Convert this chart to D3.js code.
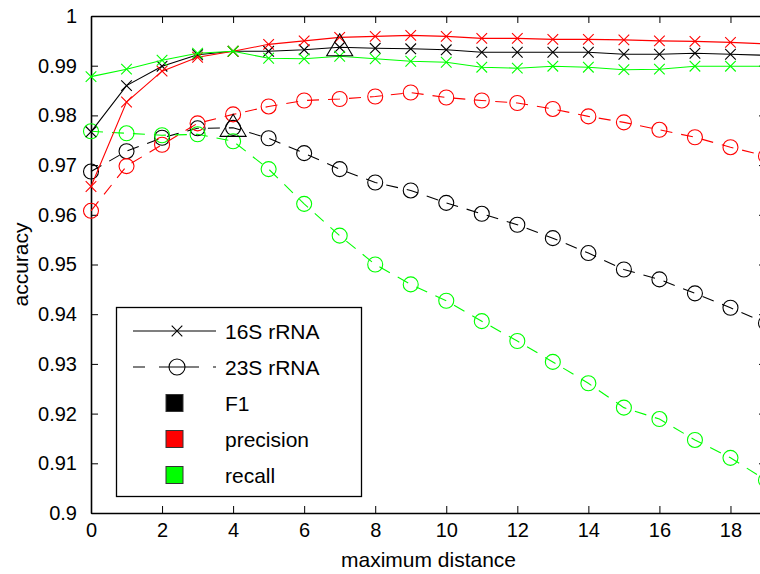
<!DOCTYPE html>
<html>
<head>
<meta charset="utf-8">
<script src="https://cdn.jsdelivr.net/npm/d3@7"></script>
<style>
  body { margin: 0; background: #fff; }
  text { font-family: "Liberation Sans", Arial, sans-serif; }
</style>
</head>
<body>
<div class="chart"></div>
<script>
// frame
let FRAME_WIDTH = 760;
let FRAME_HEIGHT = 574;
let MARGINS = {left: 91, top: 16, right: 766, bottom: 513};

// data
const distances = d3.range(0, 20);
const yTicks = [0.9, 0.91, 0.92, 0.93, 0.94, 0.95, 0.96, 0.97, 0.98, 0.99, 1];
const xTicks = [0, 2, 4, 6, 8, 10, 12, 14, 16, 18];

const f1_16S   = [0.9767, 0.9860, 0.9899, 0.9922, 0.9929, 0.9929, 0.9932, 0.9937, 0.9935, 0.9934, 0.9932, 0.9927, 0.9927, 0.9927, 0.9927, 0.9923, 0.9923, 0.9925, 0.9923, 0.9921];
const prec_16S = [0.9657, 0.9827, 0.9889, 0.9917, 0.9929, 0.9943, 0.9950, 0.9957, 0.9959, 0.9961, 0.9959, 0.9955, 0.9955, 0.9953, 0.9953, 0.9952, 0.9950, 0.9949, 0.9947, 0.9944];
const rec_16S  = [0.9878, 0.9893, 0.9911, 0.9925, 0.9929, 0.9915, 0.9914, 0.9919, 0.9914, 0.9909, 0.9907, 0.9897, 0.9895, 0.9899, 0.9897, 0.9892, 0.9893, 0.9899, 0.9899, 0.9899];

const f1_23S   = [0.9687, 0.9728, 0.9755, 0.9774, 0.9775, 0.9754, 0.9724, 0.9692, 0.9665, 0.9649, 0.9624, 0.9602, 0.9580, 0.9553, 0.9523, 0.9490, 0.9470, 0.9442, 0.9413, 0.9382];
const prec_23S = [0.9608, 0.9698, 0.9741, 0.9784, 0.9802, 0.9818, 0.9830, 0.9833, 0.9838, 0.9846, 0.9836, 0.9830, 0.9825, 0.9813, 0.9798, 0.9786, 0.9771, 0.9756, 0.9736, 0.9718];
const rec_23S  = [0.9768, 0.9764, 0.9760, 0.9762, 0.9748, 0.9692, 0.9622, 0.9558, 0.9500, 0.9460, 0.9427, 0.9386, 0.9346, 0.9304, 0.9261, 0.9212, 0.9189, 0.9147, 0.9111, 0.9066];

const measures = ["F1", "precision", "recall"];
const colors = ["#000000", "#ff0000", "#00ff00"];
const genes = ["16S rRNA", "23S rRNA"];

let svg = d3.select(".chart")
  .append("svg")
  .attr("width", FRAME_WIDTH)
  .attr("height", FRAME_HEIGHT);

const xScale = d3.scaleLinear().domain([0, 19]).range([MARGINS.left, MARGINS.right]);
const yScale = d3.scaleLinear().domain([0.9, 1]).range([MARGINS.bottom, MARGINS.top]);

// axes (ticks point inward like matlab)
const TICK = 7;
svg.append("g")
  .attr("transform", "translate(0," + MARGINS.bottom + ")")
  .call(d3.axisBottom(xScale).tickValues(xTicks).tickSizeInner(-TICK).tickSizeOuter(0).tickPadding(10).tickFormat(d3.format("d")))
  .call(g => g.select(".domain").attr("stroke-width", 1.6))
  .attr("font-size", "20px");

svg.append("g")
  .attr("transform", "translate(0," + MARGINS.top + ")")
  .call(d3.axisTop(xScale).tickValues(xTicks).tickSizeInner(-TICK).tickSizeOuter(0).tickFormat(""))
  .call(g => g.select(".domain").attr("stroke-width", 1.6));

svg.append("g")
  .attr("transform", "translate(" + MARGINS.left + ",0)")
  .call(d3.axisLeft(yScale).tickValues(yTicks).tickSizeInner(-TICK).tickSizeOuter(0).tickPadding(14).tickFormat(d => d === 1 ? "1" : d3.format(".2~f")(d)))
  .call(g => g.select(".domain").attr("stroke-width", 1.6))
  .attr("font-size", "20px");

svg.append("g")
  .attr("transform", "translate(" + MARGINS.right + ",0)")
  .call(d3.axisRight(yScale).tickValues(yTicks).tickSizeInner(-TICK).tickSizeOuter(0).tickFormat(""))
  .call(g => g.select(".domain").attr("stroke-width", 1.6));

svg.selectAll(".tick text").attr("fill", "#000");

// axis titles
svg.append("text")
  .attr("x", (MARGINS.left + MARGINS.right) / 2)
  .attr("y", 567)
  .attr("text-anchor", "middle")
  .attr("font-size", "21px")
  .text("maximum distance");

svg.append("text")
  .attr("transform", "translate(28," + ((MARGINS.top + MARGINS.bottom) / 2) + ") rotate(-90)")
  .attr("text-anchor", "middle")
  .attr("font-size", "21px")
  .text("accuracy");

// plot
let plot = svg.append("g");
let line = d3.line().x((d, i) => xScale(distances[i])).y(d => yScale(d));

function drawX(g, x, y, color) {
  let s = 5.3;
  g.append("path")
    .attr("d", "M" + (x - s) + "," + (y - s) + "L" + (x + s) + "," + (y + s) + "M" + (x - s) + "," + (y + s) + "L" + (x + s) + "," + (y - s))
    .attr("stroke", color).attr("stroke-width", 1.1).attr("fill", "none");
}

function drawSeries(values, color, dashed) {
  let g = plot.append("g");
  g.append("path")
    .datum(values)
    .attr("d", line)
    .attr("fill", "none")
    .attr("stroke", color)
    .attr("stroke-width", 1.1)
    .attr("stroke-dasharray", dashed ? "12,9" : null);
  values.forEach((v, i) => {
    if (dashed) {
      g.append("circle")
        .attr("cx", xScale(distances[i])).attr("cy", yScale(v)).attr("r", 7.5)
        .attr("fill", "none").attr("stroke", color).attr("stroke-width", 1.1);
    } else {
      drawX(g, xScale(distances[i]), yScale(v), color);
    }
  });
}

[f1_23S, prec_23S, rec_23S].forEach((s, i) => drawSeries(s, colors[i], true));
[f1_16S, prec_16S, rec_16S].forEach((s, i) => drawSeries(s, colors[i], false));

// triangles on the best F1 of each gene
[f1_16S, f1_23S].forEach(s => {
  let k = d3.maxIndex(s);
  let cx = xScale(distances[k]), cy = yScale(s[k]);
  plot.append("path")
    .attr("d", "M" + cx + "," + (cy - 13.5) + "L" + (cx + 13) + "," + (cy + 8.5) + "L" + (cx - 13) + "," + (cy + 8.5) + "Z")
    .attr("fill", "none").attr("stroke", "#000").attr("stroke-width", 1.1);
});

// legend
let legend = svg.append("g");
legend.append("rect")
  .attr("x", 116.5).attr("y", 307.5).attr("width", 245).attr("height", 189)
  .attr("fill", "#fff").attr("stroke", "#000").attr("stroke-width", 1.3);

const rowY = [331, 367, 403, 439, 475];
// 16S row
legend.append("line").attr("x1", 133).attr("x2", 216).attr("y1", rowY[0]).attr("y2", rowY[0])
  .attr("stroke", "#000").attr("stroke-width", 1.1);
drawX(legend, 177, rowY[0], "#000");
// 23S row
legend.append("line").attr("x1", 133).attr("x2", 216).attr("y1", rowY[1]).attr("y2", rowY[1])
  .attr("stroke", "#000").attr("stroke-width", 1.1).attr("stroke-dasharray", "12,14,40,14");
legend.append("circle").attr("cx", 177).attr("cy", rowY[1]).attr("r", 8)
  .attr("fill", "none").attr("stroke", "#000").attr("stroke-width", 1.1);

genes.forEach((t, i) => {
  legend.append("text").attr("x", 225).attr("y", rowY[i]).attr("dy", "0.36em")
    .attr("font-size", "21px").text(t);
});

measures.forEach((m, i) => {
  legend.append("rect")
    .attr("x", 166).attr("y", rowY[i + 2] - 8.5).attr("width", 17).attr("height", 17)
    .attr("fill", colors[i]).attr("stroke", "#333").attr("stroke-width", 1);
  legend.append("text").attr("x", 225).attr("y", rowY[i + 2]).attr("dy", "0.36em")
    .attr("font-size", "21px").text(m);
});
</script>
</body>
</html>
